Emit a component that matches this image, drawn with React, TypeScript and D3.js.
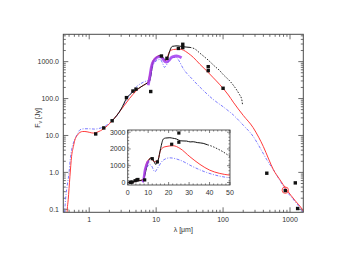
import React from 'react';
import * as d3 from 'd3';

type Pt = [number, number];

// photometry (lambda in micron, flux in Jy)
const photometry: Pt[] = [
  [1.25, 11], [1.65, 16], [2.2, 25], [3.6, 106], [4.5, 160], [5.0, 180],
  [8.3, 155], [12, 1420], [14.5, 1230], [21.5, 2280], [25, 2950], [25, 2400],
  [60, 730], [60, 570], [100, 190], [450, 0.95], [850, 0.32], [1200, 0.52], [1300, 0.105],
];
const circled: Pt[] = [[850, 0.33]];

// models, log-log panel
const modelRed: Pt[] = [
  [0.46, 0.05], [0.47, 0.1], [0.485, 0.18], [0.515, 0.78], [0.545, 2.7], [0.58, 5],
  [0.611, 7.6], [0.66, 10], [0.726, 12.1], [0.8, 12.8], [0.862, 12.8], [1.0, 12.2],
  [1.147, 11.6], [1.35, 12.5], [1.62, 14.9], [2.16, 23.9], [3, 50], [4, 100], [5, 160],
  [6, 210], [7, 250], [7.6, 290], [8.2, 550], [8.9, 1035], [10, 1335], [11.2, 1437],
  [12, 1380], [13, 1150], [14, 1050], [14.6, 1275], [16.1, 1935], [18.2, 2130],
  [22.3, 2190], [25.5, 2050], [30, 1700], [36, 1300], [45, 850], [57, 560], [70, 380],
  [90, 235], [120, 125], [142, 80], [200, 35], [280, 16.5], [340, 9], [400, 5],
  [480, 2.3], [565, 1.18], [700, 0.65], [890, 0.34], [1200, 0.17], [1530, 0.098], [1600, 0.085],
];
const modelBlue: Pt[] = [
  [0.42, 0.05], [0.435, 0.12], [0.45, 0.25], [0.467, 0.42], [0.5, 1.0], [0.52, 2.2],
  [0.545, 4], [0.58, 6.2], [0.63, 9], [0.68, 11.6], [0.726, 14.2], [0.85, 15.2],
  [1.0, 15.2], [1.2, 14.9], [1.4, 15.5], [1.62, 16.8], [2.0, 21.6], [2.5, 32], [3.2, 62],
  [4, 125], [5.1, 210], [6.5, 280], [8.1, 330], [8.6, 600], [9.3, 900], [10.5, 1100],
  [11.5, 1150], [12.5, 900], [13.3, 700], [14.5, 850], [16, 1150], [18, 1300], [20, 1300],
  [22, 1050], [25, 680], [35, 330], [50, 170], [71, 95], [100, 60], [142, 36], [200, 19],
  [282, 9.4], [360, 4.5], [450, 2.2], [565, 1.18], [700, 0.62], [890, 0.31], [1200, 0.16],
  [1530, 0.09], [1600, 0.08],
];
const spectrumBlack: Pt[] = [
  [2.2, 25], [3, 52], [3.6, 100], [4.5, 150], [5.5, 190], [6.5, 230], [7.5, 270],
  [8.0, 300], [8.4, 450], [8.9, 900], [9.5, 1150], [10.2, 1300], [11.4, 1470], [12.5, 1335],
  [13.7, 1100], [14.9, 1300], [16.1, 2035], [17.4, 2590], [19, 2650], [20.6, 2680],
  [22.5, 2630], [23.9, 2590], [26, 2520], [28.8, 2470], [32, 2430], [38, 2200], [45, 1700],
  [60, 1100], [75, 750], [90, 560], [100, 450], [128, 290], [160, 170], [175, 130],
  [190, 95], [195, 70],
];
const irsPurple: Pt[] = [
  [7.6, 230], [7.9, 330], [8.1, 420], [8.4, 650], [8.8, 900], [9.3, 1080],
  [10.0, 1250], [10.6, 1330], [11.4, 1370], [12.2, 1280], [12.7, 1170], [13.5, 1000],
  [14.3, 970], [15.0, 1030], [15.8, 1110], [17.0, 1300], [18, 1370], [20, 1420], [22, 1380],
  [24, 1280],
];

// inset (linear)
const insetBlack: Pt[] = [
  [0.3, 0], [1.1, 10], [2.5, 40], [4.4, 78], [6.8, 138], [7.8, 200], [8.4, 437], [9.2, 900],
  [10, 1230], [11.4, 1470], [12.5, 1335], [13.7, 1080], [14.9, 1335], [16.1, 2035],
  [17.4, 2590], [18.5, 2650], [20.6, 2670], [22, 2640], [23.9, 2590], [25, 2520], [26.5, 2480],
  [28.8, 2470], [30.5, 2420], [32, 2430], [34, 2380], [36.9, 2335], [39, 2250], [41.8, 2130],
  [44, 2000], [46.6, 1830], [49, 1635], [50, 1560],
];
const insetRed: Pt[] = [
  [0.5, 0], [3, 40], [5, 110], [7, 140], [7.6, 160], [8.3, 600], [8.9, 1035], [10, 1335],
  [11.2, 1437], [13, 1235], [14.6, 1275], [16.1, 1935], [18.2, 2130], [22.3, 2190],
  [25.5, 2035], [30.4, 1535], [35.3, 1080], [40.1, 735], [45, 540], [49.9, 437],
];
const insetBlue: Pt[] = [
  [0.5, 0], [3, 40], [5, 110], [7, 100], [7.6, 140], [8.4, 500], [9.3, 840], [10.6, 1080],
  [11.6, 1000], [13.3, 635], [14.5, 840], [17.4, 1335], [20.6, 1470], [25.5, 1335],
  [32, 935], [38.5, 600], [45, 377], [49.9, 275],
];
const insetPurple: Pt[] = [
  [7.2, 20], [7.8, 200], [8.4, 720], [8.9, 950], [9.3, 1080], [9.9, 1230], [10.5, 1275],
];

const xTicks = [1, 10, 100, 1000];
const yTicks = [0.1, 1, 10, 100, 1000];
const insetXTicks = [0, 10, 20, 30, 40, 50];
const insetYTicks = [0, 1000, 2000, 3000];

const W = 338;
const H = 261;
const M = { left: 63.3, right: 303.3, top: 34.3, bottom: 212.3 };
const I = { left: 127.7, right: 230, top: 130, bottom: 185 };

const axisColor = '#4a4a4a';
const font = "'Liberation Sans', Arial, sans-serif";

const App: React.FC = () => {
  const x = d3.scaleLog().domain([0.41, 1580]).range([M.left, M.right]);
  const y = d3.scaleLog().domain([0.083, 5500]).range([M.bottom, M.top]);
  const ix = d3.scaleLinear().domain([0, 50]).range([I.left, I.right]);
  const iy = d3.scaleLinear().domain([-150, 3130]).range([I.bottom, I.top]);

  const line = d3.line<Pt>().x(d => x(d[0])).y(d => y(d[1])).curve(d3.curveMonotoneX);
  const iline = d3.line<Pt>().x(d => ix(d[0])).y(d => iy(d[1])).curve(d3.curveMonotoneX);

  // log minor ticks
  const minorX: number[] = [];
  [0.1, 1, 10, 100, 1000].forEach(d => {
    for (let k = 2; k <= 9; k++) {
      const v = d * k;
      if (v > 0.41 && v < 1580) minorX.push(v);
    }
  });
  const minorY: number[] = [];
  [0.01, 0.1, 1, 10, 100, 1000].forEach(d => {
    for (let k = 2; k <= 9; k++) {
      const v = d * k;
      if (v > 0.083 && v < 5500) minorY.push(v);
    }
  });
  const insetMinorX = d3.range(0, 51, 2).filter(v => v % 10 !== 0);
  const insetMinorY = d3.range(-100, 3101, 200).filter(v => v % 1000 !== 0);

  const bkSolid = spectrumBlack.filter(d => d[0] <= 32);
  const bkDash = spectrumBlack.filter(d => d[0] >= 32);
  const ibkSolid = insetBlack.filter(d => d[0] <= 39);
  const ibkDash = insetBlack.filter(d => d[0] >= 39);

  const maj = 5;
  const mnr = 2.5;

  return (
    <svg width={W} height={H} style={{ position: 'absolute', left: 0, top: 0 }}>
      <defs>
        <clipPath id="mainClip">
          <rect x={M.left} y={M.top} width={M.right - M.left} height={M.bottom - M.top} />
        </clipPath>
        <clipPath id="insetClip">
          <rect x={I.left} y={I.top} width={I.right - I.left} height={I.bottom - I.top} />
        </clipPath>
      </defs>
      <rect width={W} height={H} fill="#fff" />

      {/* main ticks */}
      <g stroke={axisColor} strokeWidth={0.8}>
        {xTicks.map(t => (
          <g key={'xt' + t}>
            <line x1={x(t)} x2={x(t)} y1={M.bottom} y2={M.bottom - maj} />
            <line x1={x(t)} x2={x(t)} y1={M.top} y2={M.top + maj} />
          </g>
        ))}
        {minorX.map(t => (
          <g key={'xm' + t}>
            <line x1={x(t)} x2={x(t)} y1={M.bottom} y2={M.bottom - mnr} />
            <line x1={x(t)} x2={x(t)} y1={M.top} y2={M.top + mnr} />
          </g>
        ))}
        {yTicks.map(t => (
          <g key={'yt' + t}>
            <line x1={M.left} x2={M.left + maj} y1={y(t)} y2={y(t)} />
            <line x1={M.right} x2={M.right - maj} y1={y(t)} y2={y(t)} />
          </g>
        ))}
        {minorY.map(t => (
          <g key={'ym' + t}>
            <line x1={M.left} x2={M.left + mnr} y1={y(t)} y2={y(t)} />
            <line x1={M.right} x2={M.right - mnr} y1={y(t)} y2={y(t)} />
          </g>
        ))}
      </g>

      {/* main curves */}
      <g clipPath="url(#mainClip)" fill="none">
        <path d={line(modelBlue)!} stroke="#6b6bff" strokeWidth={0.9} strokeDasharray="3,1.5,1,1.5" />
        <path d={line(modelRed)!} stroke="#ff3b3b" strokeWidth={1} />
        <path d={line(bkSolid)!} stroke="#111" strokeWidth={1} />
        <path d={line(bkDash)!} stroke="#111" strokeWidth={0.9} strokeDasharray="1.5,1.5" />
        <path d={line(irsPurple)!} stroke="#a23cf0" strokeWidth={2.8} strokeOpacity={0.85} />
        {photometry.map((d, i) => (
          <rect key={'p' + i} x={x(d[0]) - 1.7} y={y(d[1]) - 1.7} width={3.4} height={3.4} fill="#111" />
        ))}
        {circled.map((d, i) => (
          <circle key={'c' + i} cx={x(d[0])} cy={y(d[1])} r={3.2} fill="none" stroke="#ff3b3b" strokeWidth={0.9} />
        ))}
      </g>

      <rect x={M.left} y={M.top} width={M.right - M.left} height={M.bottom - M.top} fill="none" stroke={axisColor} strokeWidth={1} />

      {/* main labels */}
      <g fontFamily={font} fontSize={7} fill="#333">
        {xTicks.map(t => (
          <text key={'xl' + t} x={x(t)} y={222} textAnchor="middle">{t}</text>
        ))}
        {yTicks.map(t => (
          <text key={'yl' + t} x={59} y={y(t) + 2.5} textAnchor="end">{t.toFixed(1)}</text>
        ))}
        <text x={183.3} y={232} textAnchor="middle">λ [μm]</text>
        <text transform="translate(40,118) rotate(-90)" textAnchor="middle">
          F<tspan fontSize={5.2} dy={1.5}>ν</tspan><tspan dy={-1.5}> [Jy]</tspan>
        </text>
      </g>

      {/* inset */}
      <rect x={I.left} y={I.top} width={I.right - I.left} height={I.bottom - I.top} fill="#fff" />
      <g stroke={axisColor} strokeWidth={0.7}>
        {insetXTicks.map(t => (
          <g key={'ixt' + t}>
            <line x1={ix(t)} x2={ix(t)} y1={I.bottom} y2={I.bottom - 3} />
            <line x1={ix(t)} x2={ix(t)} y1={I.top} y2={I.top + 3} />
          </g>
        ))}
        {insetMinorX.map(t => (
          <g key={'ixm' + t}>
            <line x1={ix(t)} x2={ix(t)} y1={I.bottom} y2={I.bottom - 1.5} />
            <line x1={ix(t)} x2={ix(t)} y1={I.top} y2={I.top + 1.5} />
          </g>
        ))}
        {insetYTicks.map(t => (
          <g key={'iyt' + t}>
            <line x1={I.left} x2={I.left + 3} y1={iy(t)} y2={iy(t)} />
            <line x1={I.right} x2={I.right - 3} y1={iy(t)} y2={iy(t)} />
          </g>
        ))}
        {insetMinorY.map(t => (
          <g key={'iym' + t}>
            <line x1={I.left} x2={I.left + 1.5} y1={iy(t)} y2={iy(t)} />
            <line x1={I.right} x2={I.right - 1.5} y1={iy(t)} y2={iy(t)} />
          </g>
        ))}
      </g>
      <g clipPath="url(#insetClip)" fill="none">
        <path d={iline(insetBlue)!} stroke="#6b6bff" strokeWidth={0.9} strokeDasharray="3,1.5,1,1.5" />
        <path d={iline(insetRed)!} stroke="#ff3b3b" strokeWidth={1} />
        <path d={iline(ibkSolid)!} stroke="#111" strokeWidth={1} />
        <path d={iline(ibkDash)!} stroke="#111" strokeWidth={0.9} strokeDasharray="1.5,1.5" />
        <path d={iline(insetPurple)!} stroke="#a23cf0" strokeWidth={2.5} strokeOpacity={0.85} />
        {photometry.filter(d => d[0] <= 50).map((d, i) => (
          <rect key={'ip' + i} x={ix(d[0]) - 1.6} y={iy(d[1]) - 1.6} width={3.2} height={3.2} fill="#111" />
        ))}
      </g>
      <rect x={I.left} y={I.top} width={I.right - I.left} height={I.bottom - I.top} fill="none" stroke={axisColor} strokeWidth={0.9} />
      <g fontFamily={font} fontSize={7} fill="#333">
        {insetXTicks.map(t => (
          <text key={'ixl' + t} x={ix(t)} y={195} textAnchor="middle">{t}</text>
        ))}
        {insetYTicks.map(t => (
          <text key={'iyl' + t} x={125.5} y={iy(t) + 2.5} textAnchor="end">{t}</text>
        ))}
      </g>
    </svg>
  );
};

export default App;
